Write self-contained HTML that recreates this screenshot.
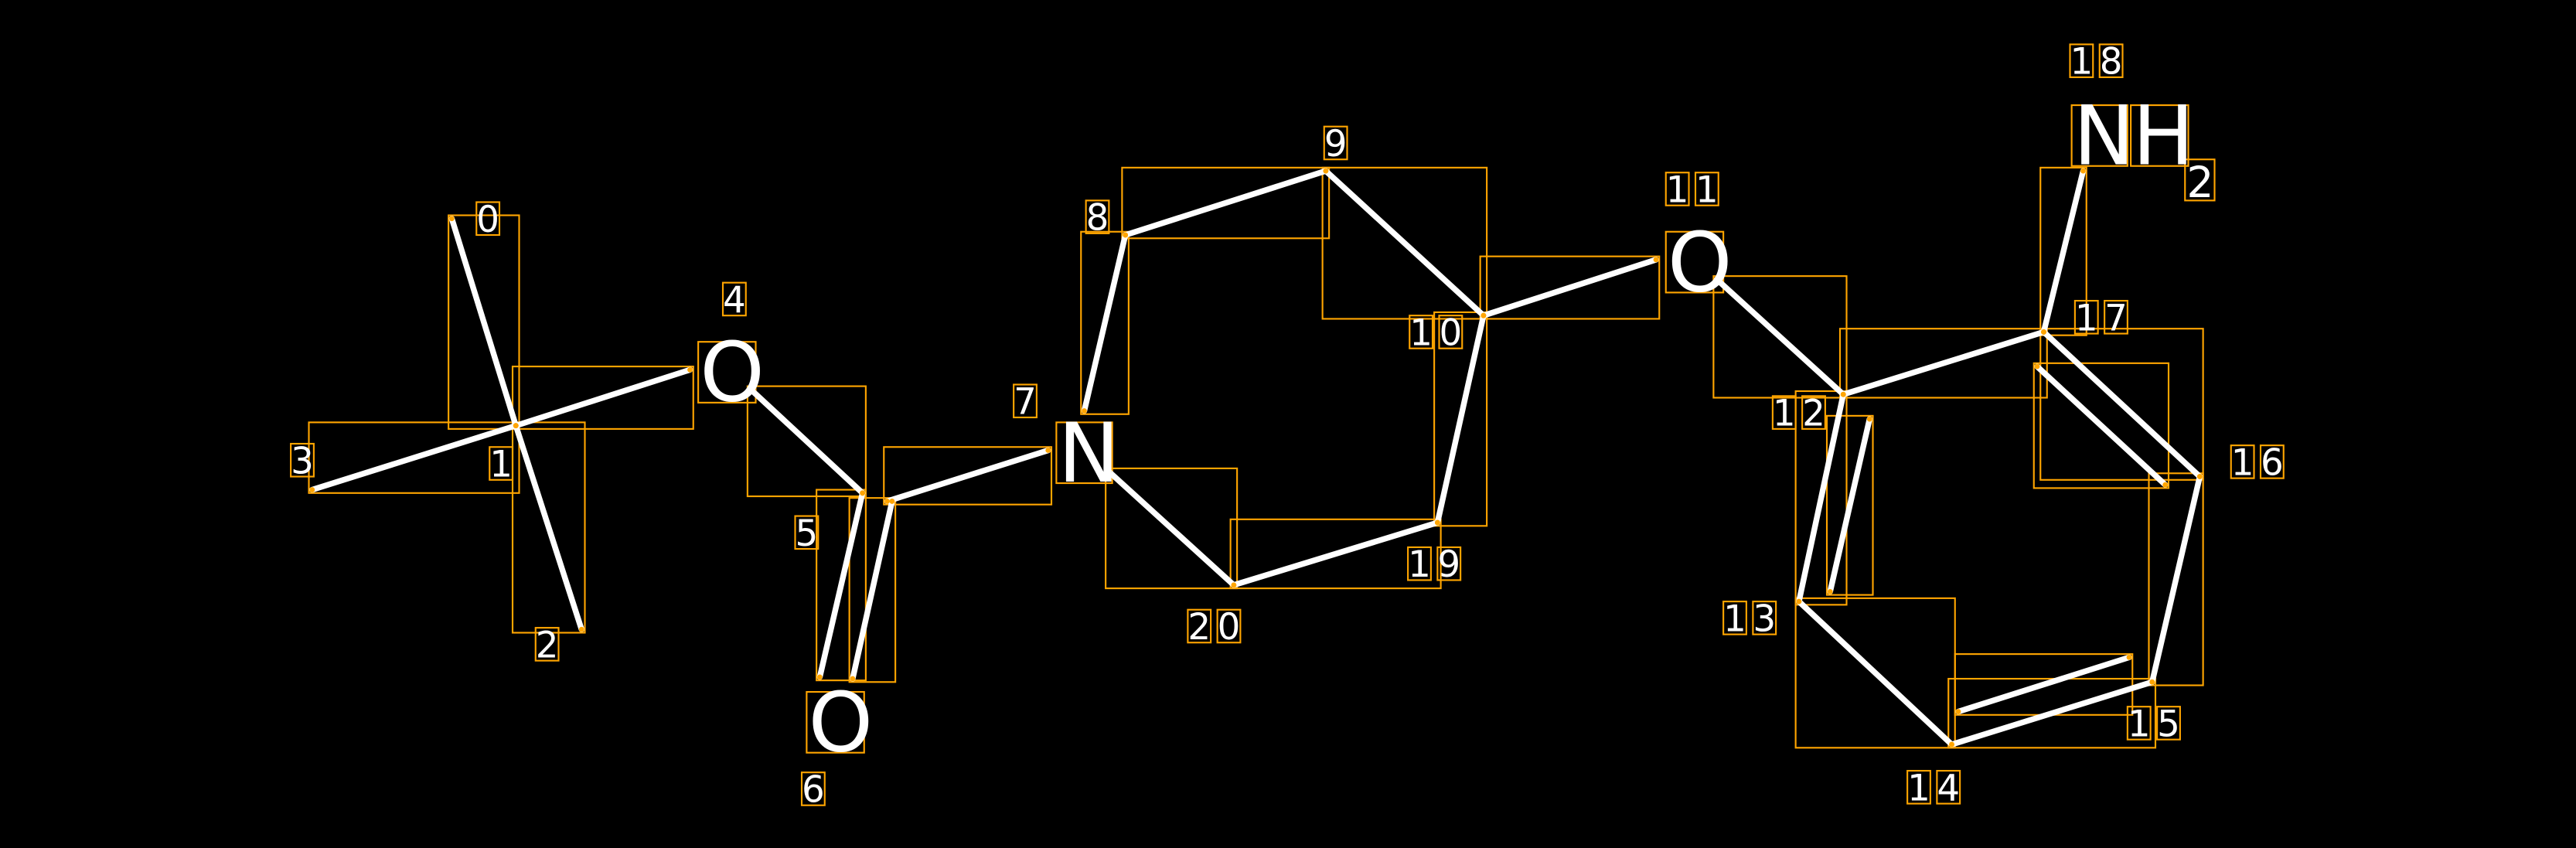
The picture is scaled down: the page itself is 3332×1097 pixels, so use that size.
<!DOCTYPE html>
<html><head><meta charset="utf-8"><style>
html,body{margin:0;padding:0;background:#000;width:3332px;height:1097px;overflow:hidden}
svg{display:block}
text{font-family:"DejaVu Sans","Liberation Sans",sans-serif;fill:#fff}
</style></head><body>
<svg id="s" width="3332" height="1097" viewBox="0 0 1568 516" preserveAspectRatio="none">
<rect width="1568" height="516" fill="#000"/>
<g id="boxes" fill="none" stroke="#FFA500" stroke-width="1"></g>
<g id="bonds" stroke="#fff" stroke-width="3.5" stroke-linecap="round"></g>
<g id="dots" fill="#FFA500"></g>
<g id="labels"></g>
</svg>
<script>
var NS="http://www.w3.org/2000/svg";
function el(p,t,a,txt){var e=document.createElementNS(NS,t);for(var k in a)e.setAttribute(k,a[k]);if(txt!=null)e.textContent=txt;document.getElementById(p).appendChild(e);return e;}
var bonds=[
[275,133,314,259],[314,259,420,225],[314,259,190,298],[314,259,354,383],
[457,237,525,300],[525,300,499,412],[543,305,519,413],[540,305,638,274],
[675,287,751,356],[751,356,875,318],[875,318,903,192],[903,192,807,104],[807,104,685,143],[685,143,660,250],
[903,192,1008,158],[1045,170,1122,240],[1122,240,1244,202],[1244,202,1268,104],
[1122,240,1095,366],[1138,255,1114,360],[1095,366,1188,453],[1188,453,1310,415],[1192,433,1296,400],
[1310,415,1339,290],[1339,290,1244,202],[1240,223,1318,295]];
bonds.forEach(function(b){
 el("bonds","line",{x1:b[0],y1:b[1],x2:b[2],y2:b[3]});
 var x=Math.min(b[0],b[2])-2,y=Math.min(b[1],b[3])-2,w=Math.abs(b[2]-b[0])+4,h=Math.abs(b[3]-b[1])+4;
 el("boxes","rect",{x:x,y:y,width:w,height:h});
 el("dots","circle",{cx:b[0],cy:b[1],r:1.6});el("dots","circle",{cx:b[2],cy:b[3],r:1.6});
});
// big atom labels
function big(ch,x,y){ // x,y = top-left of glyph box
 var w=ch=="N"?34:35;
 el("labels","text",{x:x+1,y:y+36,"font-size":"50"},ch);
 el("boxes","rect",{x:x,y:y,width:w,height:37});
}
big("O",425,208);big("O",491,421);big("N",643,257);big("O",1014,141);
big("N",1261,64);big("H",1297,64);
el("labels","text",{x:1331,y:120,"font-size":"26"},"2");
el("boxes","rect",{x:1330,y:97,width:18,height:25});
// numeric labels: center x, center y
var nums=[["0",297,133],["1",305,282],["2",333,392],["3",184,280],["4",447,182],["5",491,324],["6",495,480],
["7",624,244],["8",668,132],["9",813,87],["10",874,202],["11",1030,115],["12",1095,251],["13",1065,376],
["14",1177,479],["15",1311,440],["16",1374,281],["17",1279,193],["18",1276,37],["19",873,343],["20",739,381]];
nums.forEach(function(n){
 var s=n[0],pitch=18,tot=(s.length-1)*pitch;
 for(var i=0;i<s.length;i++){
  var cx=n[1]-tot/2+i*pitch;
  el("labels","text",{x:cx,y:n[2]+8,"font-size":"22","text-anchor":"middle"},s[i]);
  el("boxes","rect",{x:cx-7,y:n[2]-10,width:14,height:20});
 }
});
</script>
</body></html>
